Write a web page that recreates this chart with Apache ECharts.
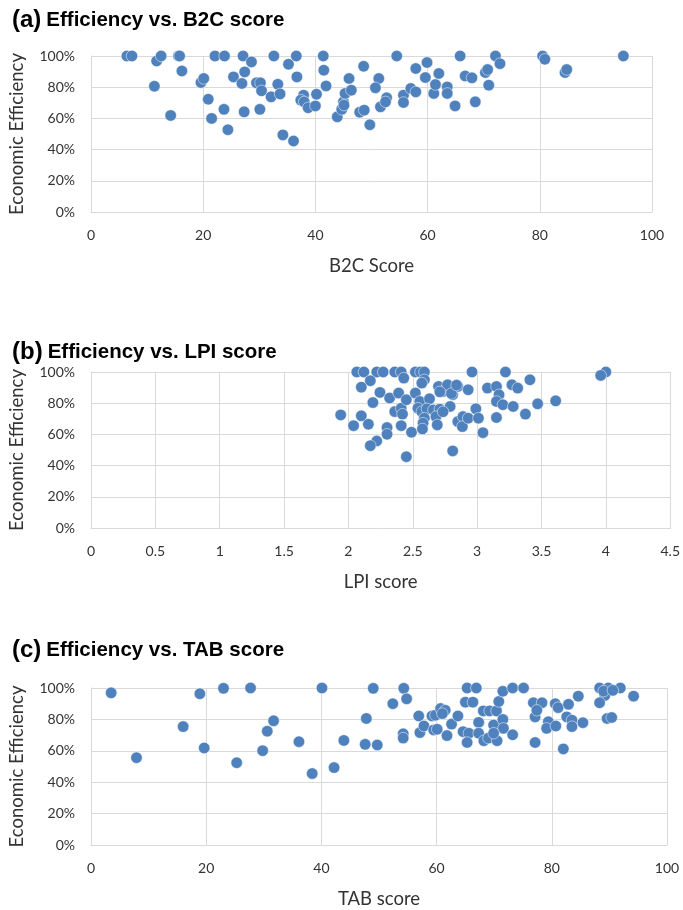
<!DOCTYPE html>
<html>
<head>
<meta charset="utf-8">
<script src="https://cdn.jsdelivr.net/npm/echarts@6/dist/echarts.min.js"></script>
<style>html,body{margin:0;padding:0;background:#fff}#c{width:683px;height:910px}</style>
</head>
<body>
<div id="c"></div>
<script>
// (a) B2C score vs efficiency (%)
const b2cScore = [6.4,7.3,11.3,11.7,12.5,14.2,15.6,15.8,16.2,19.6,20.1,20.9,21.5,22.1,23.8,23.7,24.4,25.4,26.9,27.1,27.4,27.3,28.6,29.5,30.2,30.4,30.1,32.1,32.6,33.3,33.7,34.2,35.2,36.1,36.6,36.7,37.9,37.4,38.0,38.7,40.0,40.2,41.4,41.5,41.9,43.9,44.7,45.0,45.3,46.0,46.4,45.1,47.9,48.7,48.6,49.7,51.3,50.7,51.6,52.7,52.5,54.5,55.7,55.7,57.0,57.9,57.9,59.9,59.6,61.1,61.4,62.0,63.5,63.5,64.9,65.8,66.7,67.9,68.5,70.3,70.7,70.9,72.1,72.9,80.5,80.9,84.5,84.8,94.9];
const b2cEff = [100,100,80.6,96.8,100,61.9,100,100,90.4,83,85.6,72.3,60,100,100,65.8,52.7,86.6,82.4,100,89.8,64.2,96.2,82.8,82.8,77.7,65.8,73.8,100,81.9,75.7,49.4,94.7,45.5,100,86.6,74.9,71.7,70.6,66.8,68,75.5,100,90.9,80.8,61,65.8,70.6,76,85.6,78.1,68.5,64,65.3,93.4,55.9,85.6,79.6,67.4,73.2,70.6,100,74.9,70.2,79.2,77,92,95.8,86.2,76,81.7,88.8,80.2,76,68,100,87.2,86,70.6,89.4,91.3,81.3,100,95.1,100,97.9,89.4,91.3,100];

// (b) LPI score vs efficiency (%)
const lpiScore = [2.065,2.12,2.22,2.27,2.36,2.41,2.52,2.56,2.59,2.96,3.22,4.0,3.96,2.17,2.43,2.59,2.57,2.10,2.245,2.32,2.39,2.19,1.94,2.10,2.04,2.155,2.30,2.30,2.22,2.17,2.45,2.36,2.41,2.42,2.41,2.49,2.45,2.52,2.555,2.63,2.54,2.57,2.61,2.59,2.58,2.575,2.66,2.71,2.68,2.69,2.70,2.735,2.77,2.81,2.85,2.79,2.81,2.93,2.85,2.89,2.885,2.93,2.99,3.01,3.045,3.08,3.15,3.17,3.15,3.20,3.15,3.27,3.315,3.28,3.41,3.375,3.47,3.61,2.80,2.71,2.735,2.84];
const lpiEff = [100,100,100,100,100,100,100,100,100,100,100,100,97.8,94.4,96.1,95,92.9,90.3,86.9,83.3,86.5,80.4,72.5,71.9,65.6,66.5,64.4,60.1,55.8,52.8,45.7,74.6,76.8,73,65.6,61.4,82.2,86.5,81.1,82.8,76.8,74.6,76.4,70.4,67.2,63.5,75.7,76.2,71.4,66.1,90.7,87.5,91.8,85.4,90.7,77.9,49.4,88.6,68.2,71.4,65,70.4,76.4,70.4,61.1,89.7,90.7,85.4,81.1,79,70.8,91.8,89.7,77.9,95,73,79.6,81.5,86.2,87.3,74.5,91.6];

// (c) TAB score vs efficiency (%)
const tabScore = [3.5,7.9,16.0,18.9,19.65,23.0,25.3,27.7,29.8,30.6,31.7,36.1,38.4,40.1,42.2,43.9,47.8,47.6,49.0,49.7,52.4,54.3,54.8,54.2,54.2,56.9,57.1,57.8,59.2,59.8,60.7,61.5,61.0,59.5,60.1,61.8,62.6,63.7,65.3,66.9,65.0,66.3,64.6,65.6,65.3,67.3,67.3,68.2,69.0,70.5,68.1,69.2,70.4,70.8,71.5,69.9,71.5,71.6,69.9,73.2,75.1,73.2,76.8,78.3,77.1,77.4,77.1,79.4,79.1,80.7,80.6,81.1,82.0,82.9,82.6,83.5,83.5,84.6,85.4,88.3,89.8,89.2,88.3,89.6,90.4,91.9,94.2,89.0,90.6];
const tabEff = [96.9,55.6,75.4,96.3,61.8,99.8,52.4,100,60.1,72.5,79.1,65.8,45.5,100,49.3,66.6,80.6,64.1,99.8,63.7,90,99.8,93.1,70.8,68.1,82.2,71.6,75.8,82.2,82.7,86.9,85.8,83.7,73.3,73.7,69.7,77,82.2,100,100,91,91,72.2,71.2,65.3,78.1,71.2,66.4,68.1,66.4,85.4,85.4,85.4,91.4,97.9,76.4,80,74.3,71.2,100,100,70.2,90.6,90.6,81.6,85.8,65.3,78.5,74.3,75.8,90,87.5,61.2,89.6,81.6,79.5,75.4,94.8,77.9,100,100,95.2,90.6,80.6,81.2,100,94.8,98,98.5];

const titles = ['(a)|Efficiency vs. B2C score','(b)|Efficiency vs. LPI score','(c)|Efficiency vs. TAB score'];
const xNames = ['B2C Score','LPI score','TAB score'];
const yName = 'Economic Efficiency';

const pairs = (xs, ys) => xs.map((x, i) => [x, ys[i]]);
const FONT = 'Lato, "Open Sans", sans-serif';
const grids = [
  {left: 89, right: 31, top: 56, height: 156},
  {left: 90, right: 12, top: 372, height: 156},
  {left: 89, right: 16, top: 688, height: 159}
];
const xCfg = [{min:0,max:100,interval:20},{min:0,max:4.5,interval:0.5},{min:0,max:100,interval:20}];
const titleTops = [3, 335, 633];
const gridLine = {lineStyle:{color:'#d9d9d9',width:1}};

const option = {
  animation: false,
  backgroundColor: '#fff',
  title: titles.map((t, i) => {
    const [p, rest] = t.split('|');
    return {
      left: 7, top: titleTops[i],
      text: '{p|' + p + '} {r|' + rest + '}',
      textStyle: {rich: {
        p: {fontFamily:'"Liberation Sans", Arial, sans-serif', fontWeight:'bold', fontSize:24, color:'#000'},
        r: {fontFamily:'"Liberation Sans", Arial, sans-serif', fontWeight:'bold', fontSize:20.5, color:'#000'}
      }}
    };
  }),
  grid: grids,
  xAxis: xCfg.map((c, i) => ({
    type:'value', gridIndex:i, min:c.min, max:c.max, interval:c.interval,
    name: xNames[i], nameLocation:'middle', nameGap: 45,
    nameTextStyle:{fontFamily:FONT, fontSize:18.5, color:'#333'},
    axisLine:{show:true, lineStyle:{color:'#d9d9d9'}},
    axisTick:{show:false},
    splitLine:{show:true, ...gridLine},
    axisLabel:{fontFamily:FONT, fontSize:14, color:'#333', margin:16}
  })),
  yAxis: grids.map((g, i) => ({
    type:'value', gridIndex:i, min:0, max:100, interval:20,
    name: yName, nameLocation:'middle', nameGap: 64, nameRotate: 90,
    nameTextStyle:{fontFamily:FONT, fontSize:18.5, color:'#333'},
    axisLine:{show:true, lineStyle:{color:'#d9d9d9'}},
    axisTick:{show:false},
    splitLine:{show:true, ...gridLine},
    axisLabel:{fontFamily:FONT, fontSize:14, color:'#333', margin:16, formatter:'{value}%'}
  })),
  series: [pairs(b2cScore,b2cEff), pairs(lpiScore,lpiEff), pairs(tabScore,tabEff)].map((d, i) => ({
    type:'scatter', xAxisIndex:i, yAxisIndex:i, data:d, symbolSize:11.5,
    itemStyle:{color:'#4f81bd', borderColor:'#ffffff', borderWidth:0.5, opacity:1}
  }))
};
const chart = echarts.init(document.getElementById('c'), null, {renderer:'canvas'});
chart.setOption(option);
</script>
</body>
</html>
